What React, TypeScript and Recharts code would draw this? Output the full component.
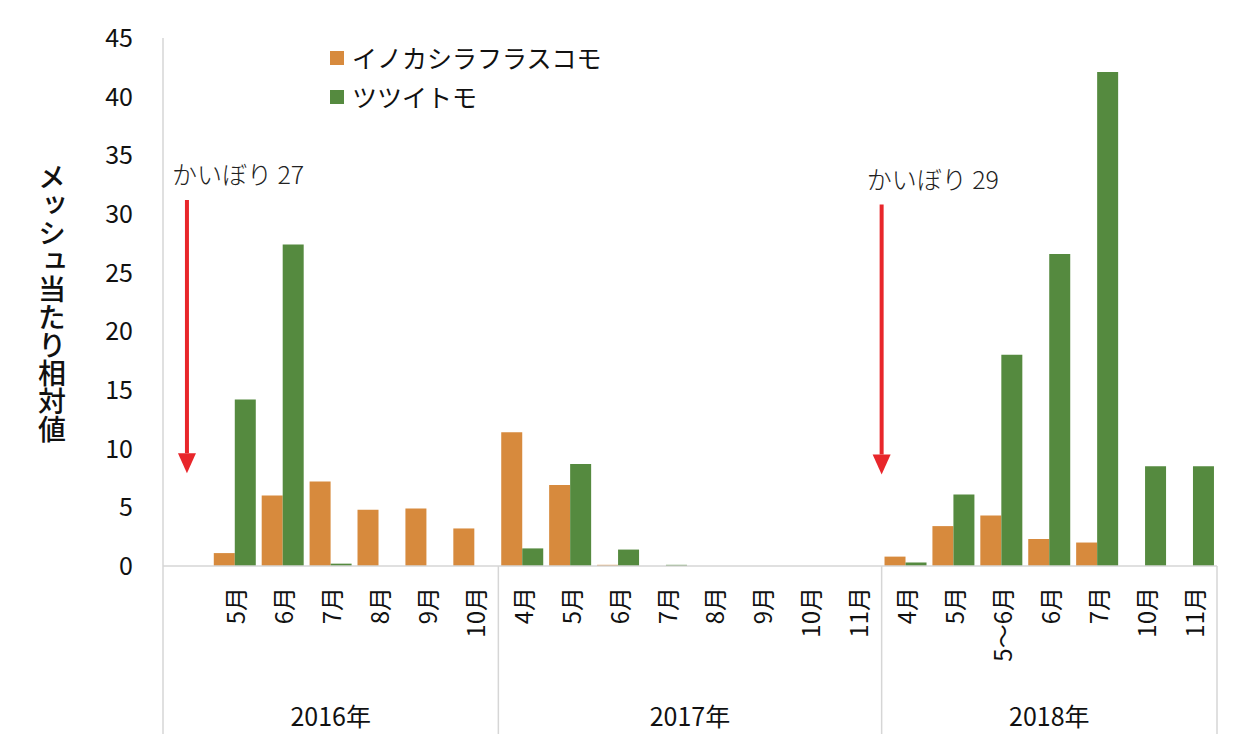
import { BarChart, Bar, XAxis, YAxis, ReferenceLine } from 'recharts';

// category per bar group (22 slots), the first 2016 slot is empty (かいぼり arrow)
const years = [
  '2016年', '2016年', '2016年', '2016年', '2016年', '2016年', '2016年',
  '2017年', '2017年', '2017年', '2017年', '2017年', '2017年', '2017年', '2017年',
  '2018年', '2018年', '2018年', '2018年', '2018年', '2018年', '2018年',
];
const months = [
  '', '5月', '6月', '7月', '8月', '9月', '10月',
  '4月', '5月', '6月', '7月', '8月', '9月', '10月', '11月',
  '4月', '5月', '5～6月', '6月', '7月', '10月', '11月',
];
const inokashira = [0, 1.1, 6.0, 7.2, 4.8, 4.9, 3.2, 11.4, 6.9, 0.1, 0, 0, 0, 0, 0, 0.8, 3.4, 4.3, 2.3, 2.0, 0, 0];
const tsutsui = [0, 14.2, 27.4, 0.2, 0, 0, 0, 1.5, 8.7, 1.4, 0.1, 0, 0, 0, 0, 0.3, 6.1, 18.0, 26.6, 42.1, 8.5, 8.5];
const yTicks = [0, 5, 10, 15, 20, 25, 30, 35, 40, 45];
const seriesNames = ['イノカシラフラスコモ', 'ツツイトモ'];

// かいぼり annotations: category index, label, arrow top / tip in data units
const kaibori = [
  { at: 0, label: 'かいぼり 27', top: 31.2, tip: 7.9, position: 'middle' as const },
  { at: 15, label: 'かいぼり 29', top: 30.8, tip: 7.8, position: 'start' as const },
];

const data = months.map((m, i) => ({
  key: `c${i}`,
  month: m,
  year: years[i],
  inokashira: inokashira[i],
  tsutsui: tsutsui[i],
}));

const ORANGE = '#D78A3D';
const GREEN = '#558A3F';
const FONT = "'Noto Sans CJK JP', 'Noto Sans', sans-serif";

const MonthTick = (props: any) => {
  const { x, y, payload } = props;
  const i: number = payload.index;
  const half: number = payload.offset ?? 24;
  const year = years[i];
  const first = i === 0 || years[i - 1] !== year;
  const last = i === years.length - 1;
  const size = years.filter((v) => v === year).length;
  const sep = '#d6d6d6';
  return (
    <g>
      <text
        transform={`translate(${x},${y + 21}) rotate(-90)`}
        textAnchor="end"
        dominantBaseline="central"
        fontSize={24}
        fontFamily={FONT}
        fill="#111"
      >
        {months[i]}
      </text>
      {first && <line x1={x - half} x2={x - half} y1={y} y2={y + 170} stroke={sep} strokeWidth={1.5} />}
      {last && <line x1={x + half} x2={x + half} y1={y} y2={y + 170} stroke={sep} strokeWidth={1.5} />}
      {first && (
        <text
          x={x - half + size * half}
          y={y + 160}
          textAnchor="middle"
          fontSize={25}
          fontFamily={FONT}
          fill="#111"
        >
          {year}
        </text>
      )}
    </g>
  );
};

const YLabel = () => (
  <text
    x={52}
    y={163}
    fontSize={28}
    fontFamily={FONT}
    fontWeight={500}
    fill="#111"
    style={{ writingMode: 'vertical-rl' }}
  >
    メッシュ当たり相対値
  </text>
);

const arrowShape = (label: string) => (p: any) => {
  const { x1, y1, y2 } = p;
  const head = 20;
  return (
    <g>
      <text x={x1 - 15} y={y1 - 16} fontSize={25} fontFamily={FONT} fontWeight={300} fill="#222">
        {label}
      </text>
      <line x1={x1} x2={x1} y1={y1} y2={y2 - head} stroke="#E8262B" strokeWidth={4} />
      <polygon points={`${x1 - 9},${y2 - head} ${x1 + 9},${y2 - head} ${x1},${y2}`} fill="#E8262B" />
    </g>
  );
};

export default function App() {
  return (
    <div style={{ position: 'absolute', left: 0, top: 0, width: 1241, height: 734, background: '#fff' }}>
      <BarChart
        width={1241}
        height={734}
        data={data}
        margin={{ top: 38, right: 24, left: 0, bottom: 0 }}
        barCategoryGap="6%"
        barGap={0}
      >
        <XAxis
          dataKey="key"
          interval={0}
          tickLine={false}
          tickSize={0}
          tickMargin={0}
          height={168}
          axisLine={{ stroke: '#d6d6d6', strokeWidth: 1.5 }}
          tick={<MonthTick />}
        />
        <YAxis
          domain={[0, 45]}
          ticks={yTicks}
          width={163}
          tickLine={false}
          tickMargin={24}
          axisLine={{ stroke: '#d6d6d6', strokeWidth: 1.5 }}
          tick={{ fontSize: 25, fill: '#111', fontFamily: FONT }}
          label={<YLabel />}
        />
        <Bar dataKey="inokashira" name={seriesNames[0]} fill={ORANGE} isAnimationActive={false} />
        <Bar dataKey="tsutsui" name={seriesNames[1]} fill={GREEN} isAnimationActive={false} />
        {kaibori.map((k) => (
          <ReferenceLine
            key={k.label}
            segment={[
              { x: `c${k.at}`, y: k.top },
              { x: `c${k.at}`, y: k.tip },
            ]}
            position={k.position}
            ifOverflow="visible"
            shape={arrowShape(k.label)}
          />
        ))}
      </BarChart>
      <div
        style={{
          position: 'absolute',
          left: 330,
          top: 38,
          fontFamily: FONT,
          fontSize: 25,
          color: '#111',
          lineHeight: '39px',
        }}
      >
        {seriesNames.map((name, i) => (
          <div key={name} style={{ display: 'flex', alignItems: 'center' }}>
            <span
              style={{
                width: 14,
                height: 14,
                background: i === 0 ? ORANGE : GREEN,
                marginRight: 8,
                display: 'inline-block',
              }}
            />
            {name}
          </div>
        ))}
      </div>
    </div>
  );
}
